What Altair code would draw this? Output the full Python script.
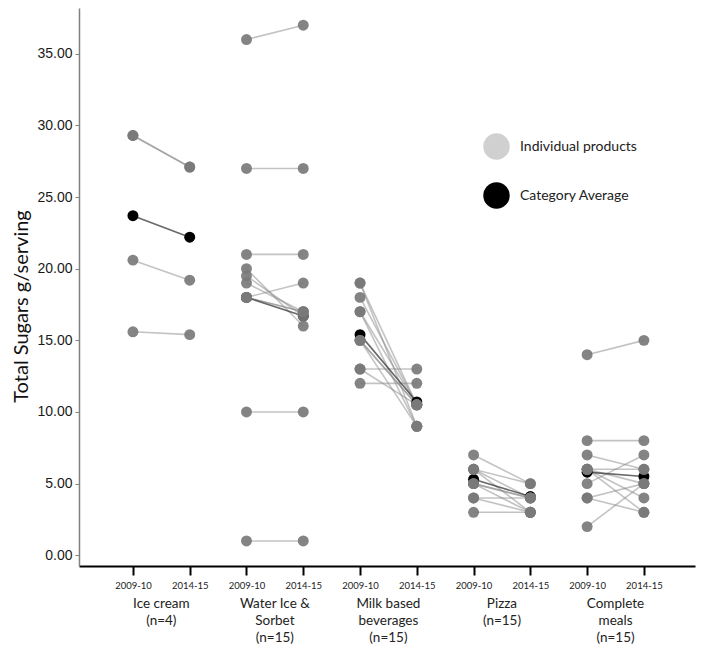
import altair as alt
import pandas as pd

# ---- data ----
categories = ["Ice cream", "Water Ice & Sorbet", "Milk based beverages", "Pizza", "Complete meals"]
category_labels = ["Ice cream\n(n=4)", "Water Ice &\nSorbet\n(n=15)", "Milk based\nbeverages\n(n=15)",
                   "Pizza\n(n=15)", "Complete\nmeals\n(n=15)"]
period_labels = ["2009-10", "2014-15"]

ice_2009 = [29.3, 29.3, 20.6, 15.6]
ice_2014 = [27.1, 27.1, 19.2, 15.4]

water_2009 = [36, 27, 21, 20, 19.5, 19, 18, 18, 18, 10, 1]
water_2014 = [37, 27, 21, 16, 16.7, 17, 19, 17, 17, 10, 1]

milk_2009 = [19, 19, 18, 17, 17, 15, 15, 15, 13, 13, 12]
milk_2014 = [10.5, 9, 10.5, 10.5, 9, 10.5, 10.5, 9, 13, 10.5, 12]

pizza_2009 = [7, 6, 6, 6, 5, 5, 5, 4, 4, 3]
pizza_2014 = [5, 5, 4, 3, 4, 4, 3, 4, 3, 3]

meals_2009 = [14, 8, 7, 6, 6, 6, 6, 5, 4, 4, 2]
meals_2014 = [15, 8, 6, 6, 4, 3, 5, 7, 5, 3, 5]

avg_2009 = [23.7, 18.0, 15.4, 5.3, 5.8]
avg_2014 = [22.2, 16.7, 10.7, 4.1, 5.5]

legend_labels = ["Individual products", "Category Average"]
legend_colors = ["#d0d0d0", "#000000"]

y_ticks = [0, 5, 10, 15, 20, 25, 30, 35]

# ---- build tables ----
firsts = [ice_2009, water_2009, milk_2009, pizza_2009, meals_2009]
seconds = [ice_2014, water_2014, milk_2014, pizza_2014, meals_2014]

rows = []
pid = 0
for c, (a, b) in enumerate(zip(firsts, seconds)):
    for v1, v2 in zip(a, b):
        rows.append({"pid": pid, "cat": categories[c], "x": 2 * c + 1, "value": v1})
        rows.append({"pid": pid, "cat": categories[c], "x": 2 * c + 2, "value": v2})
        pid += 1
ind = pd.DataFrame(rows)

arows = []
for c in range(len(categories)):
    arows.append({"cat": categories[c], "x": 2 * c + 1, "value": avg_2009[c]})
    arows.append({"cat": categories[c], "x": 2 * c + 2, "value": avg_2014[c]})
avg = pd.DataFrame(arows)

labels_df = pd.DataFrame({"x": [2 * c + 1.5 for c in range(len(categories))], "label": category_labels})
leg_df = pd.DataFrame({"label": legend_labels})

W, H = 616, 558

x_scale = alt.Scale(domain=[0.05, 10.9], nice=False, zero=False)
y_scale = alt.Scale(domain=[-0.75, 38.2], nice=False, zero=False)

x_axis = alt.Axis(values=list(range(1, 11)),
                  labelExpr="datum.value % 2 == 1 ? '2009-10' : '2014-15'",
                  title=None, grid=False, domainColor="black", domainWidth=2,
                  tickColor="black", tickWidth=2, tickSize=9, labelFont="Lato",
                  labelFontSize=9.5, labelPadding=5, labelColor="#222",
                  labelOverlap=False, labelFlush=False)
y_axis = alt.Axis(values=y_ticks, format=".2f", title="Total Sugars g/serving",
                  grid=False, domainColor="#808080", domainWidth=1.5,
                  tickColor="#808080", tickWidth=1, tickSize=4, labelPadding=3,
                  labelFont="Liberation Sans", labelFontSize=14, labelColor="#1a1a1a",
                  titleFont="Lato", titleFontSize=20, titleFontWeight="normal",
                  titleColor="#111", titleX=-58, titleY=298, titleBaseline="middle",
                  titleAngle=-90)

X = alt.X("x:Q", scale=x_scale, axis=x_axis)
Y = alt.Y("value:Q", scale=y_scale, axis=y_axis)

lines = alt.Chart(ind).mark_line(color="#888888", opacity=0.5, strokeWidth=1.6).encode(
    x=X, y=Y, detail="pid:N")
avg_line = alt.Chart(avg).mark_line(color="#444444", opacity=0.8, strokeWidth=1.6).encode(
    x=X, y=Y, detail="cat:N")
avg_pts = alt.Chart(avg).mark_circle(color="#000000", size=120, opacity=1).encode(x=X, y=Y)
pts = alt.Chart(ind).mark_circle(color="#7a7a7a", size=120, opacity=0.92).encode(x=X, y=Y)

cat_text = alt.Chart(labels_df).mark_text(
    font="Lato", fontSize=13.5, lineHeight=17, baseline="top", align="center",
    color="#222", lineBreak="\n").encode(
    x=alt.X("x:Q", scale=x_scale, axis=x_axis), y=alt.value(H + 31), text="label:N")

legend_layer = alt.Chart(leg_df).mark_circle(opacity=0).encode(
    color=alt.Color("label:N",
                    scale=alt.Scale(domain=legend_labels, range=legend_colors),
                    legend=alt.Legend(title=None, orient="none", legendX=404, legendY=125,
                                      symbolSize=700, symbolType="circle", symbolOpacity=1,
                                      symbolStrokeWidth=0, labelFont="Lato", labelFontSize=14,
                                      labelColor="#222", labelOffset=10, rowPadding=22,
                                      padding=0)))

chart = alt.layer(lines, avg_line, avg_pts, pts, cat_text, legend_layer).properties(
    width=W, height=H,
    autosize=alt.AutoSizeParams(type="none"),
    padding={"left": 71, "top": 0, "right": 5, "bottom": 84},
).configure_view(stroke=None)

chart.save("out.html", embed_options={"renderer": "svg", "actions": False})
